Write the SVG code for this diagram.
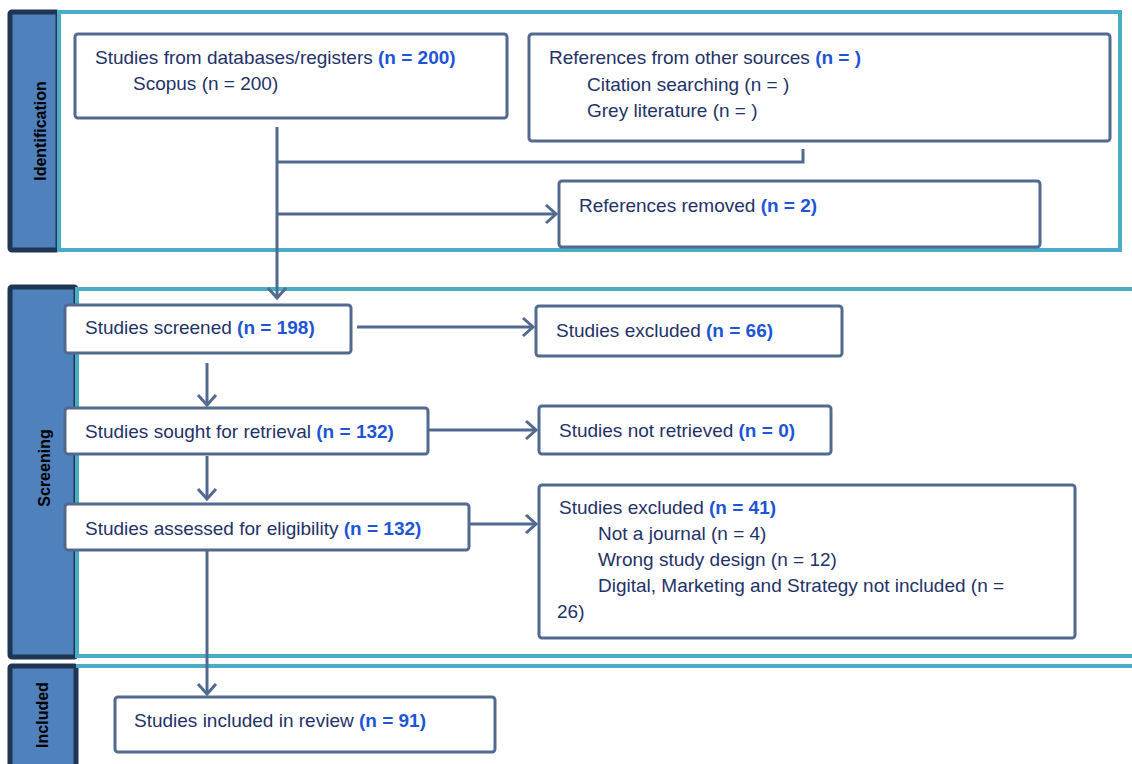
<svg xmlns="http://www.w3.org/2000/svg" width="1132" height="764" viewBox="0 0 1132 764">
<style>
.side{fill:#4f81bd;stroke:#1f3554;stroke-width:5}
.frame{fill:none;stroke:#4bacc6;stroke-width:4}
.box{fill:#fff;stroke:#526a8f;stroke-width:3}
.t{font-family:"Liberation Sans",Arial,sans-serif;font-size:19px;fill:#1f3268}
.n{font-weight:bold;fill:#1d55d6}
.lab{font-family:"Liberation Sans",Arial,sans-serif;font-size:16px;font-weight:bold;fill:#000;text-anchor:middle}
.c{fill:none;stroke:#526a8f;stroke-width:3}
</style>
<defs>
<marker id="ah" markerWidth="14" markerHeight="22" refX="12" refY="11" orient="auto" markerUnits="userSpaceOnUse">
<path d="M2,2 L12,11 L2,20" fill="none" stroke="#526a8f" stroke-width="3"/>
</marker>
</defs>
<g id="stage-identification">
<rect class="side" x="10" y="12" width="48" height="238" rx="2"/>
<rect x="59" y="12" width="1061" height="238" fill="#fff" class="frame"/>
<text class="lab" transform="translate(46,131) rotate(-90)">Identification</text>
</g>
<g id="stage-screening">
<rect class="side" x="10" y="287" width="66" height="370" rx="2"/>
<rect x="77" y="289" width="1070" height="367" fill="#fff" class="frame"/>
<text class="lab" transform="translate(50,468) rotate(-90)">Screening</text>
</g>
<g id="stage-included">
<rect class="side" x="10" y="666" width="66" height="110" rx="2"/>
<line x1="76" y1="666" x2="1132" y2="666" stroke="#4bacc6" stroke-width="4"/>
<text class="lab" transform="translate(48,715) rotate(-90)">Included</text>
</g>
<g id="connectors">
<path class="c" d="M277,127 V298" marker-end="url(#ah)"/>
<path class="c" d="M277,162 H803 V149"/>
<path class="c" d="M277,214 H556" marker-end="url(#ah)"/>
<path class="c" d="M357,327 H533" marker-end="url(#ah)"/>
<path class="c" d="M428,430 H536" marker-end="url(#ah)"/>
<path class="c" d="M469,524 H536" marker-end="url(#ah)"/>
<path class="c" d="M207,363 V405" marker-end="url(#ah)"/>
<path class="c" d="M207,456 V499" marker-end="url(#ah)"/>
<path class="c" d="M207,550 V694" marker-end="url(#ah)"/>
</g>
<g id="n-databases">
<rect class="box" x="75" y="34" width="432" height="84" rx="3"/>
<text class="t" x="95" y="64">Studies from databases/registers <tspan class="n">(n = 200)</tspan></text>
<text class="t" x="133" y="90">Scopus (n = 200)</text>
</g>
<g id="n-other">
<rect class="box" x="529" y="34" width="581" height="107" rx="3"/>
<text class="t" x="549" y="64">References from other sources <tspan class="n">(n = )</tspan></text>
<text class="t" x="587" y="91">Citation searching (n = )</text>
<text class="t" x="587" y="117">Grey literature (n = )</text>
</g>
<g id="n-removed">
<rect class="box" x="559" y="181" width="481" height="66" rx="3"/>
<text class="t" x="579" y="212">References removed <tspan class="n">(n = 2)</tspan></text>
</g>
<g id="n-screened">
<rect class="box" x="65" y="305" width="286" height="48" rx="3"/>
<text class="t" x="85" y="334">Studies screened <tspan class="n">(n = 198)</tspan></text>
</g>
<g id="n-excluded66">
<rect class="box" x="536" y="306" width="306" height="50" rx="3"/>
<text class="t" x="556" y="337">Studies excluded <tspan class="n">(n = 66)</tspan></text>
</g>
<g id="n-sought">
<rect class="box" x="65" y="408" width="363" height="46" rx="3"/>
<text class="t" x="85" y="438">Studies sought for retrieval <tspan class="n">(n = 132)</tspan></text>
</g>
<g id="n-notretrieved">
<rect class="box" x="539" y="406" width="292" height="48" rx="3"/>
<text class="t" x="559" y="437">Studies not retrieved <tspan class="n">(n = 0)</tspan></text>
</g>
<g id="n-assessed">
<rect class="box" x="65" y="504" width="404" height="46" rx="3"/>
<text class="t" x="85" y="535">Studies assessed for eligibility <tspan class="n">(n = 132)</tspan></text>
</g>
<g id="n-excluded41">
<rect class="box" x="539" y="485" width="536" height="153" rx="3"/>
<text class="t" x="559" y="514">Studies excluded <tspan class="n">(n = 41)</tspan></text>
<text class="t" x="598" y="540">Not a journal (n = 4)</text>
<text class="t" x="598" y="566">Wrong study design (n = 12)</text>
<text class="t" x="598" y="592">Digital, Marketing and Strategy not included (n =</text>
<text class="t" x="557" y="618">26)</text>
</g>
<g id="n-included">
<rect class="box" x="115" y="697" width="380" height="55" rx="3"/>
<text class="t" x="134" y="727">Studies included in review <tspan class="n">(n = 91)</tspan></text>
</g>
</svg>
